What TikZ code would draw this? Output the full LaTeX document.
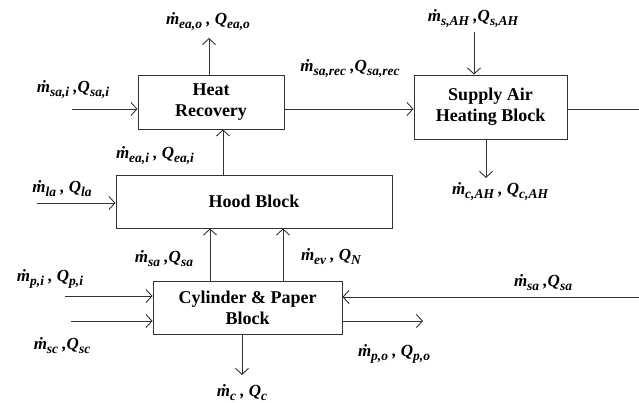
\documentclass[tikz,border=0pt]{standalone}
\usepackage{amsmath,amssymb}
\usepackage{fontspec}
\setmainfont{Liberation Serif}
\usepackage{tikz}
\usetikzlibrary{arrows.meta, positioning, calc}
\tikzset{
    blockbox/.style={rectangle, draw=black!80, line width=0.9pt, text centered, align=center, inner sep=0pt, font=\fontsize{18}{21}\selectfont\bfseries},
    flowlabel/.style={inner sep=0pt, font=\fontsize{17}{18}\selectfont\bfseries\itshape},
    arrow/.style={line width=0.9pt, ->, >={Straight Barb[length=6pt, width=13pt]}, color=black!80},
    line/.style={line width=0.9pt, color=black!80}
}
\newcommand{\flowsub}[1]{\raisebox{-4pt}{\fontsize{13.5}{14}\selectfont #1}}
\newcommand{\mflow}[1]{ṁ\flowsub{#1}}
\newcommand{\qflow}[1]{Q\flowsub{#1}}

\begin{document}
\begin{tikzpicture}[x=1pt, y=-1pt]
    \useasboundingbox (0,0) rectangle (639,403);

    % blocks
    \node (hr) [blockbox, minimum width=146pt, minimum height=54pt] at (211,102) {Heat\\ Recovery};
    \node (sah) [blockbox, minimum width=153pt, minimum height=64pt] at (490.5,107) {Supply Air\\ Heating Block};
    \node (hood) [blockbox, minimum width=276pt, minimum height=53pt] at (254,201.5) {Hood Block};
    \node (cyl) [blockbox, minimum width=189pt, minimum height=53pt] at (247.5,307.5) {Cylinder \& Paper\\ Block};

    % free ends
    \coordinate (sai) at (72,109);
    \coordinate (eao) at (209,38);
    \coordinate (sAH) at (474,32);
    \coordinate (cAH) at (486,178);
    \coordinate (out) at (639,109);
    \coordinate (la) at (37,203);
    \coordinate (pi) at (65,296);
    \coordinate (sc) at (71,321);
    \coordinate (sar) at (639,297);
    \coordinate (po) at (423,321);
    \coordinate (cc) at (242,375);

    \draw [arrow] (sai) -- (sai -| hr.west);
    \draw [arrow] (eao |- hr.north) -- (eao);
    \draw [arrow] ([yshift=-7pt]hr.east) -- ([yshift=-7pt]hr.east -| sah.west);
    \draw [arrow] (sAH) -- (sAH |- sah.north);
    \draw [arrow] (cAH |- sah.south) -- (cAH);
    \draw [line] (sah.east |- out) -- (out);
    \draw [arrow] ([xshift=12pt]hr.south |- hood.north) -- ([xshift=12pt]hr.south);
    \draw [arrow] (la) -- (la -| hood.west);
    \draw [arrow] ([xshift=-37.5pt]cyl.north) -- ([xshift=-37.5pt]cyl.north |- hood.south);
    \draw [arrow] ([xshift=35.5pt]cyl.north) -- ([xshift=35.5pt]cyl.north |- hood.south);
    \draw [arrow] (pi) -- (pi -| cyl.west);
    \draw [arrow] (sc) -- (sc -| cyl.west);
    \draw [arrow] (sar) -- (sar -| cyl.east);
    \draw [arrow] (po -| cyl.east) -- (po);
    \draw [arrow] (cc |- cyl.south) -- (cc);

    % labels
    \node (l-eao) [flowlabel] at (208,22) {\mflow{ea,o} , \qflow{ea,o}};
    \node (l-sai) [flowlabel] at (73,90) {\mflow{sa,i} ,\qflow{sa,i}};
    \node (l-rec) [flowlabel] at (350,69) {\mflow{sa,rec} ,\qflow{sa,rec}};
    \node (l-sAH) [flowlabel] at (473,19) {\mflow{s,AH} ,\qflow{s,AH}};
    \node (l-cAH) [flowlabel] at (500,192) {\mflow{c,AH} , \qflow{c,AH}};
    \node (l-eai) [flowlabel] at (155,156) {\mflow{ea,i} , \qflow{ea,i}};
    \node (l-la) [flowlabel] at (62,189) {\mflow{la} , \qflow{la}};
    \node (l-sa) [flowlabel] at (164,259) {\mflow{sa} ,\qflow{sa}};
    \node (l-ev) [flowlabel] at (331,257) {\mflow{ev} , \qflow{N}};
    \node (l-pi) [flowlabel] at (50,279) {\mflow{p,i} , \qflow{p,i}};
    \node (l-sc) [flowlabel] at (62,346) {\mflow{sc} ,\qflow{sc}};
    \node (l-sar) [flowlabel] at (543,283) {\mflow{sa} ,\qflow{sa}};
    \node (l-po) [flowlabel] at (394,354) {\mflow{p,o} , \qflow{p,o}};
    \node (l-c) [flowlabel] at (242,393) {\mflow{c} , \qflow{c}};
\end{tikzpicture}
\end{document}
